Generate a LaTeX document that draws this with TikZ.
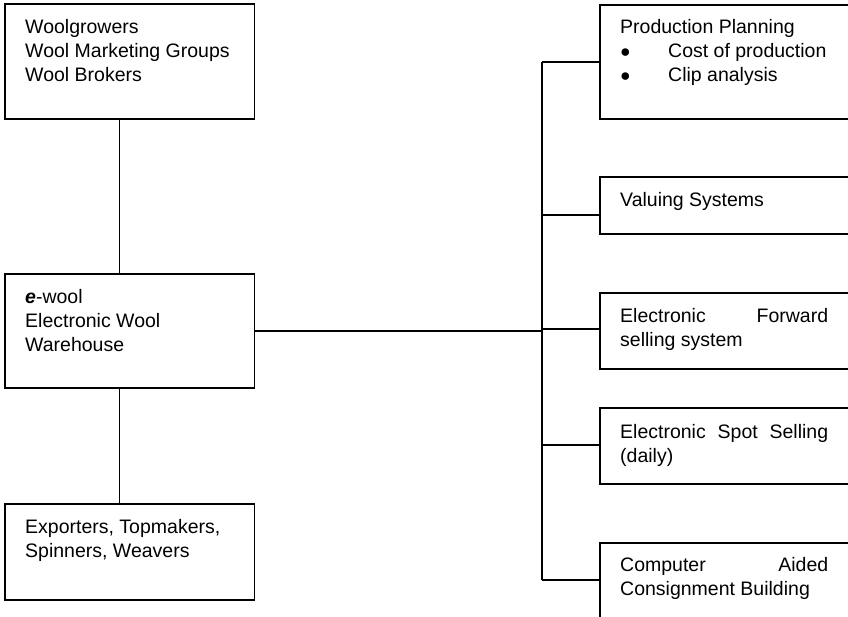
\documentclass[tikz,border=0pt]{standalone}
\usepackage{fontspec}
\setmainfont{Liberation Sans}
\newcommand{\boxtext}[2]{\parbox[t]{#1}{\fontsize{19.5}{24}\selectfont #2}}
\newcommand{\bigbul}{\makebox[48pt][l]{\raisebox{0.3pt}{\fontsize{17.5}{18}\selectfont ●}}}
\begin{document}
\begin{tikzpicture}[x=1pt,y=-1pt,
  box/.style={draw,line width=1.8pt,inner sep=0pt,anchor=north west},
  lbl/.style={anchor=base west,inner sep=0pt},
  conn/.style={line width=1.8pt}]
\useasboundingbox (0,0) rectangle (848,616);
% left boxes
\node[box,minimum width=249.5,minimum height=115] (b1) at (4,3) {};
\node[box,minimum width=249.5,minimum height=114.3] (b2) at (4,272.7) {};
\node[box,minimum width=249.5,minimum height=96.3] (b3) at (4,502.7) {};
\node[lbl] (t1) at (25,33.3) {\boxtext{220pt}{Woolgrowers\\Wool Marketing Groups\\Wool Brokers}};
\node[lbl] (t2) at (25,303.3) {\boxtext{220pt}{\textbf{\textit{e}}-wool\\Electronic Wool\\Warehouse}};
\node[lbl] (t3) at (25,533.3) {\boxtext{220pt}{Exporters, Topmakers,\\Spinners, Weavers}};
% right boxes
\node[box,minimum width=260,minimum height=114] (bA) at (599.3,4) {};
\node[box,minimum width=260,minimum height=57.3] (bB) at (599.3,176) {};
\node[box,minimum width=260,minimum height=76.6] (bC) at (599.3,291.7) {};
\node[box,minimum width=260,minimum height=76.6] (bD) at (599.3,406.7) {};
\node[box,minimum width=260,minimum height=100] (bE) at (599.3,541.7) {};
\node[lbl] (tA) at (620,33.3) {\boxtext{208pt}{Production Planning\\
  \bigbul Cost of production\\
  \bigbul Clip analysis}};
\node[lbl] (tB) at (620,206) {\boxtext{208pt}{Valuing Systems}};
\node[lbl] (tC) at (620,322.3) {\boxtext{208pt}{Electronic\hfill Forward\\selling system}};
\node[lbl] (tD) at (620,438.3) {\boxtext{208pt}{Electronic\hfill Spot\hfill Selling\\(daily)}};
\node[lbl] (tE) at (620,571.7) {\boxtext{208pt}{Computer\hfill Aided\\Consignment Building}};
% connector anchors
\coordinate (lx) at (119.5,0);
\coordinate (tr) at (542.3,0);
\coordinate (jA) at (599.3,62);
\coordinate (jB) at (599.3,215);
\coordinate (jC) at (599.3,329.3);
\coordinate (jD) at (599.3,445);
\coordinate (jE) at (599.3,580);
% connectors
\draw[conn] (b1.south -| lx) -- (b2.north -| lx);
\draw[conn] (b2.south -| lx) -- (b3.north -| lx);
\draw[conn] (b2.east) -- (b2.east -| tr);
\draw[conn] (tr |- jA) -- (tr |- jE);
\draw[conn] (tr |- jA) -- (jA);
\draw[conn] (tr |- jB) -- (jB);
\draw[conn] (tr |- jC) -- (jC);
\draw[conn] (tr |- jD) -- (jD);
\draw[conn] (tr |- jE) -- (jE);
\end{tikzpicture}
\end{document}
